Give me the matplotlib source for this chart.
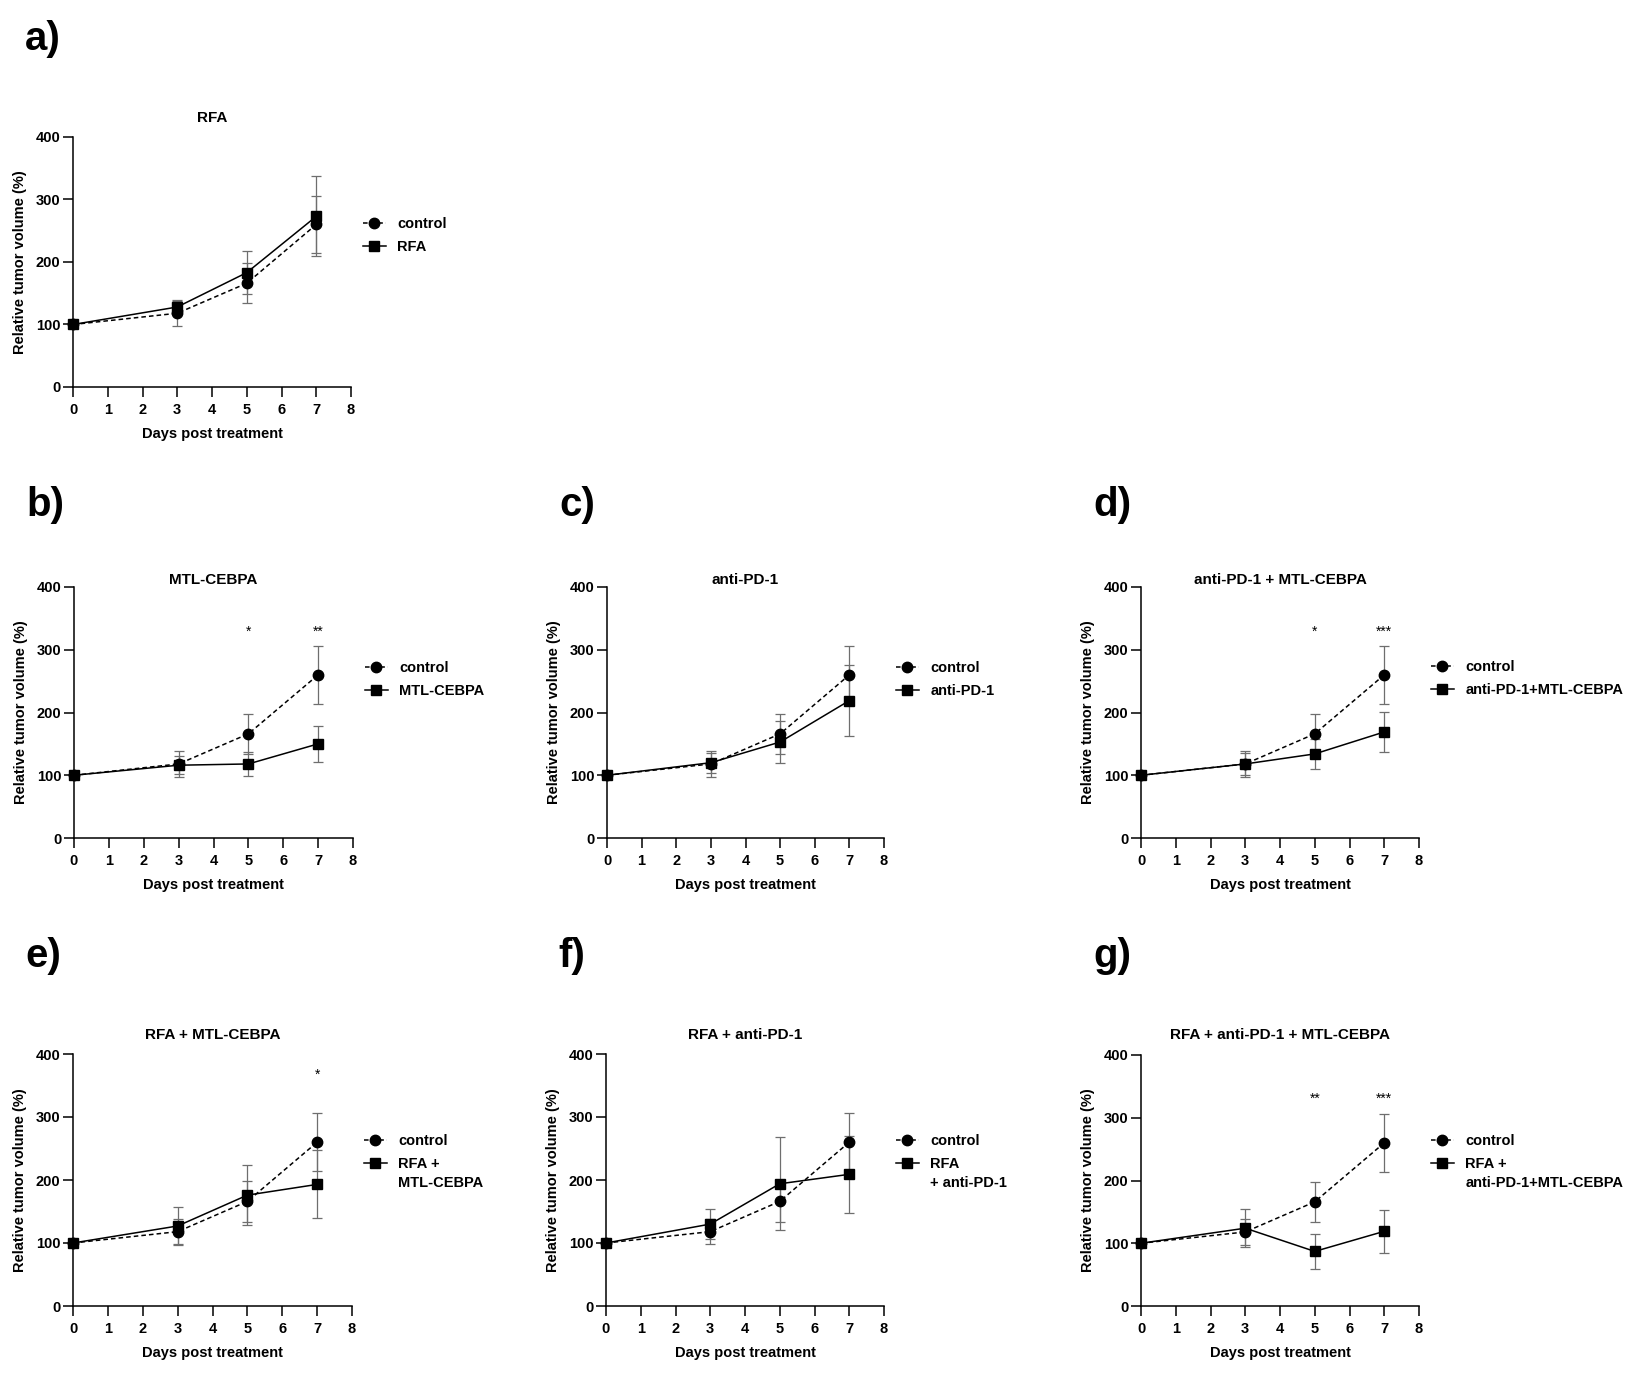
import matplotlib
matplotlib.use('Agg')
import matplotlib.pyplot as plt
from matplotlib.lines import Line2D

plt.rcParams['font.family'] = ['Liberation Sans', 'DejaVu Sans']
plt.rcParams['font.weight'] = 'bold'

# ---------------- data ----------------
days = [0, 3, 5, 7]
x_ticks = [0, 1, 2, 3, 4, 5, 6, 7, 8]
y_ticks = [0, 100, 200, 300, 400]

control_mean = [100, 118, 166, 260]
control_sem = [0, 20, 32, 46]

rfa_mean = [100, 128, 183, 273]
rfa_sem = [0, 11, 34, 64]

mtl_mean = [100, 116, 118, 150]
mtl_sem = [0, 14, 19, 29]

pd1_mean = [100, 120, 153, 219]
pd1_sem = [0, 16, 34, 57]

pd1_mtl_mean = [100, 118, 134, 169]
pd1_mtl_sem = [0, 18, 24, 32]

rfa_mtl_mean = [100, 127, 176, 193]
rfa_mtl_sem = [0, 30, 48, 54]

rfa_pd1_mean = [100, 130, 194, 209]
rfa_pd1_sem = [0, 24, 74, 61]

rfa_pd1_mtl_mean = [100, 124, 87, 119]
rfa_pd1_mtl_sem = [0, 30, 28, 34]

panel_letters = ['a)', 'b)', 'c)', 'd)', 'e)', 'f)', 'g)']
titles = ['RFA', 'MTL-CEBPA', 'anti-PD-1', 'anti-PD-1 + MTL-CEBPA',
          'RFA + MTL-CEBPA', 'RFA + anti-PD-1', 'RFA + anti-PD-1 + MTL-CEBPA']
legend_labels = [['RFA'], ['MTL-CEBPA'], ['anti-PD-1'], ['anti-PD-1+MTL-CEBPA'],
                 ['RFA +', 'MTL-CEBPA'], ['RFA', '+ anti-PD-1'],
                 ['RFA +', 'anti-PD-1+MTL-CEBPA']]
treat_means = [rfa_mean, mtl_mean, pd1_mean, pd1_mtl_mean,
               rfa_mtl_mean, rfa_pd1_mean, rfa_pd1_mtl_mean]
treat_sems = [rfa_sem, mtl_sem, pd1_sem, pd1_mtl_sem,
              rfa_mtl_sem, rfa_pd1_sem, rfa_pd1_mtl_sem]
sig_days = [[], [5, 7], [], [5, 7], [7], [], [5, 7]]
sig_labels = [[], ['*', '**'], [], ['*', '***'], ['*'], [], ['**', '***']]
sig_y = [0, 328, 0, 328, 367, 0, 330]

control_label = 'control'
xlabel = 'Days post treatment'
ylabel = 'Relative tumor volume (%)'

# ---------------- layout (pixels) ----------------
W, H = 1637, 1375
boxes = [(73, 137, 351, 387), (74, 587, 353, 838), (607, 587, 884, 838),
         (1141, 587, 1419, 838), (73, 1054, 352, 1306), (606, 1054, 884, 1306),
         (1141, 1055, 1419, 1306)]
title_off = [19, 7, 7, 7, 19, 19, 20]
letter_above = [98, 82, 82, 82, 98, 98, 99]
legend_top = [217, 661, 661, 660, 1134, 1134, 1134]

fig = plt.figure(figsize=(W / 100, H / 100), dpi=100)
legends = []
for i in range(7):
    l, t, r, b = boxes[i]
    ax = fig.add_axes([l / W, 1 - b / H, (r - l) / W, (b - t) / H])
    wpx, hpx = r - l, b - t
    ax.errorbar(days, control_mean, yerr=control_sem, fmt='none', ecolor='#6e6e6e',
                elinewidth=0.9, capsize=3.6, capthick=0.9, zorder=2, clip_on=False)
    ax.errorbar(days, treat_means[i], yerr=treat_sems[i], fmt='none', ecolor='#6e6e6e',
                elinewidth=0.9, capsize=3.6, capthick=0.9, zorder=2, clip_on=False)
    ax.plot(days, control_mean, linestyle=(0, (3, 2)), color='black', lw=1.1,
            marker='o', ms=7.5, zorder=3, clip_on=False)
    ax.plot(days, treat_means[i], linestyle='-', color='black', lw=1.1,
            marker='s', ms=7.5, zorder=4, clip_on=False)
    ax.set_xlim(0, 8)
    ax.set_ylim(0, 400)
    ax.set_xticks(x_ticks)
    ax.set_yticks(y_ticks)
    for s in ['top', 'right']:
        ax.spines[s].set_visible(False)
    for s in ['left', 'bottom']:
        ax.spines[s].set_linewidth(1.1)
    ax.tick_params(direction='out', length=7, width=1.1, labelsize=10.5, pad=2)
    ax.tick_params(axis='x', pad=4.5)
    for lab in ax.get_xticklabels() + ax.get_yticklabels():
        lab.set_fontweight('bold')
    ax.set_xlabel(xlabel, fontsize=10.5, fontweight='bold', labelpad=7)
    ax.set_ylabel(ylabel, fontsize=10.5, fontweight='bold', labelpad=6)
    ax.text(0.5, 1 + title_off[i] / hpx, titles[i], transform=ax.transAxes,
            ha='center', va='center', fontsize=11, fontweight='bold')
    for d, s in zip(sig_days[i], sig_labels[i]):
        ax.text(d, sig_y[i], s, ha='center', va='center', fontsize=10, fontweight='normal')
    fig.text((l - 48) / W, 1 - (t - letter_above[i]) / H, panel_letters[i],
             ha='left', va='center', fontsize=29, fontweight='bold')
    handles = [Line2D([], [], linestyle=(0, (3, 2)), color='black', lw=1.1, marker='o', ms=7.5),
               Line2D([], [], linestyle='-', color='black', lw=1.1, marker='s', ms=7.5)]
    leg = ax.legend(handles, [control_label, legend_labels[i][0]], loc='upper left',
                    bbox_to_anchor=(1 + 12 / wpx, (b - legend_top[i]) / hpx),
                    frameon=False, borderaxespad=0, borderpad=0, handlelength=1.55,
                    handletextpad=0.8, labelspacing=0.6,
                    prop={'size': 10.5, 'weight': 'bold'})
    legends.append((leg, legend_labels[i]))

fig.canvas.draw()
for leg, labs in legends:
    if len(labs) > 1:
        bb = leg.get_texts()[1].get_window_extent()
        fig.text(bb.x0 / W, (bb.y0 - 19) / H, labs[1], ha='left', va='bottom',
                 fontsize=10.5, fontweight='bold')

fig.savefig('out.png', dpi=100)
